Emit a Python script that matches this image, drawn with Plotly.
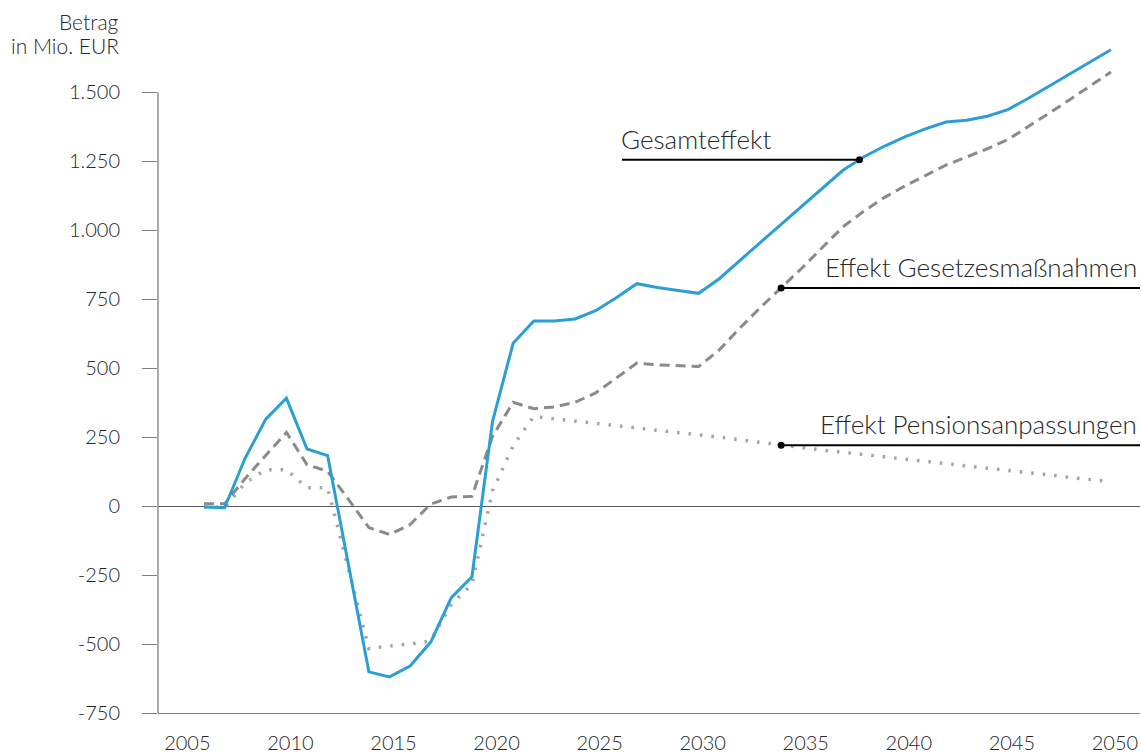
import numpy as np
import plotly.graph_objects as go

years = list(range(2006, 2051))

# Betrag in Mio. EUR
gesamteffekt = [-3, -6, 174, 315, 391, 207, 183, -210, -601, -619,
                -580, -493, -332, -256, 307, 590, 671, 671, 678, 708,
                755, 806, 792, 781, 771, 824, 891, 956, 1021, 1087,
                1152, 1217, 1265, 1304, 1338, 1367, 1392, 1398, 1413, 1437,
                1478, 1522, 1567, 1610, 1654]
gesetzesmassnahmen = [8, 8, 100, 185, 267, 150, 126, 25, -78, -103,
                      -67, 7, 33, 35, 253, 376, 353, 359, 376, 410,
                      464, 518, 512, 508, 506, 566, 645, 720, 790, 862,
                      937, 1012, 1068, 1118, 1160, 1198, 1236, 1265, 1295, 1328,
                      1375, 1424, 1473, 1523, 1573]
pensionsanpassungen = [-3, -5, 84, 132, 132, 66, 66, -225, -517, -507,
                       -500, -489, -356, -284, 55, 219, 325, 316, 308, 300,
                       292, 284, 276, 268, 260, 250, 240, 230, 220, 212,
                       203, 195, 187, 179, 171, 162, 154, 146, 138, 129,
                       121, 113, 104, 96, 88]

x_tick_vals = list(range(2005, 2051, 5))
x_tick_text = [str(v) for v in x_tick_vals]
y_tick_vals = [-750, -500, -250, 0, 250, 500, 750, 1000, 1250, 1500]
y_tick_text = ["-750", "-500", "-250", "0", "250", "500", "750", "1.000", "1.250", "1.500"]

labels = ["Gesamteffekt", "Effekt Gesetzesmaßnahmen", "Effekt Pensionsanpassungen"]

FONT = "Lato, 'Open Sans', sans-serif"
TXT = "#262626"
AXIS = "#808080"
X_MIN, X_MAX = 2003.77, 2051.41

fig = go.Figure()
fig.add_trace(go.Scatter(x=years, y=pensionsanpassungen, mode="lines", name=labels[2],
                         line=dict(color="#a3a3a3", width=3.5, dash="2.5px,9px")))
fig.add_trace(go.Scatter(x=years, y=gesetzesmassnahmen, mode="lines", name=labels[1],
                         line=dict(color="#8a8a8a", width=3, dash="10px,6px")))
fig.add_trace(go.Scatter(x=years, y=gesamteffekt, mode="lines", name=labels[0],
                         line=dict(color="#2b9fd4", width=3)))

# leader lines with dots on the series
series = [gesamteffekt, gesetzesmassnahmen, pensionsanpassungen]
dot_years = [2037.8, 2034.0, 2034.0]
line_start = [2026.28, 2034.0, 2034.0]
line_end = [2037.8, X_MAX, X_MAX]
for i, (s, dy) in enumerate(zip(series, dot_years)):
    yv = float(np.interp(dy, years, s))
    fig.add_shape(type="line", xref="x", yref="y", x0=line_start[i], x1=line_end[i],
                  y0=yv, y1=yv, line=dict(color="black", width=2))
    fig.add_trace(go.Scatter(x=[dy], y=[yv], mode="markers", showlegend=False,
                             marker=dict(color="black", size=7)))
    if i == 0:
        fig.add_annotation(x=line_start[i], y=yv, xref="x", yref="y", text=labels[i],
                           xanchor="left", yanchor="middle", yshift=21, xshift=-3,
                           showarrow=False,
                           font=dict(family=FONT, size=26, color=TXT, weight=300))
    else:
        fig.add_annotation(x=1, y=yv, xref="paper", yref="y", text=labels[i],
                           xanchor="right", yanchor="middle", yshift=21, xshift=-1,
                           showarrow=False,
                           font=dict(family=FONT, size=26, color=TXT, weight=300))

# y axis line only up to 1.500
fig.add_shape(type="line", xref="paper", yref="y", x0=0, x1=0, y0=-750, y1=1500,
              line=dict(color=AXIS, width=1.3))

fig.add_annotation(x=-0.0377, y=1, xref="paper", yref="paper", yshift=16, text="Betrag",
                   xanchor="right", yanchor="middle", showarrow=False,
                   font=dict(family=FONT, size=21, color=TXT, weight=300))
fig.add_annotation(x=-0.0377, y=1, xref="paper", yref="paper", yshift=-8, text="in Mio. EUR",
                   xanchor="right", yanchor="middle", showarrow=False,
                   font=dict(family=FONT, size=21, color=TXT, weight=300))

fig.update_layout(
    width=1141, height=754,
    margin=dict(l=158, r=1, t=37, b=41, autoexpand=False),
    plot_bgcolor="white", paper_bgcolor="white",
    showlegend=False,
    font=dict(family=FONT, size=20, color=TXT, weight=300),
    xaxis=dict(range=[X_MIN, X_MAX], showgrid=False, zeroline=False, automargin=False,
               showline=True, linecolor=AXIS, linewidth=1.3,
               tickvals=x_tick_vals, ticktext=x_tick_text, ticks="",
               ticklabelstandoff=12, ticklabelshift=4),
    yaxis=dict(range=[-750, 1700], showgrid=False, showline=False, automargin=False,
               zeroline=True, zerolinecolor="#595959", zerolinewidth=1.3,
               tickvals=y_tick_vals, ticktext=y_tick_text,
               ticks="outside", ticklen=15, tickcolor=AXIS, tickwidth=1.3,
               ticklabelstandoff=18),
)

# drop the default 8px page margin so the figure fills the window exactly
fig.write_html("out.html", config={"displayModeBar": False},
               post_script="document.body.style.margin='0px';")
